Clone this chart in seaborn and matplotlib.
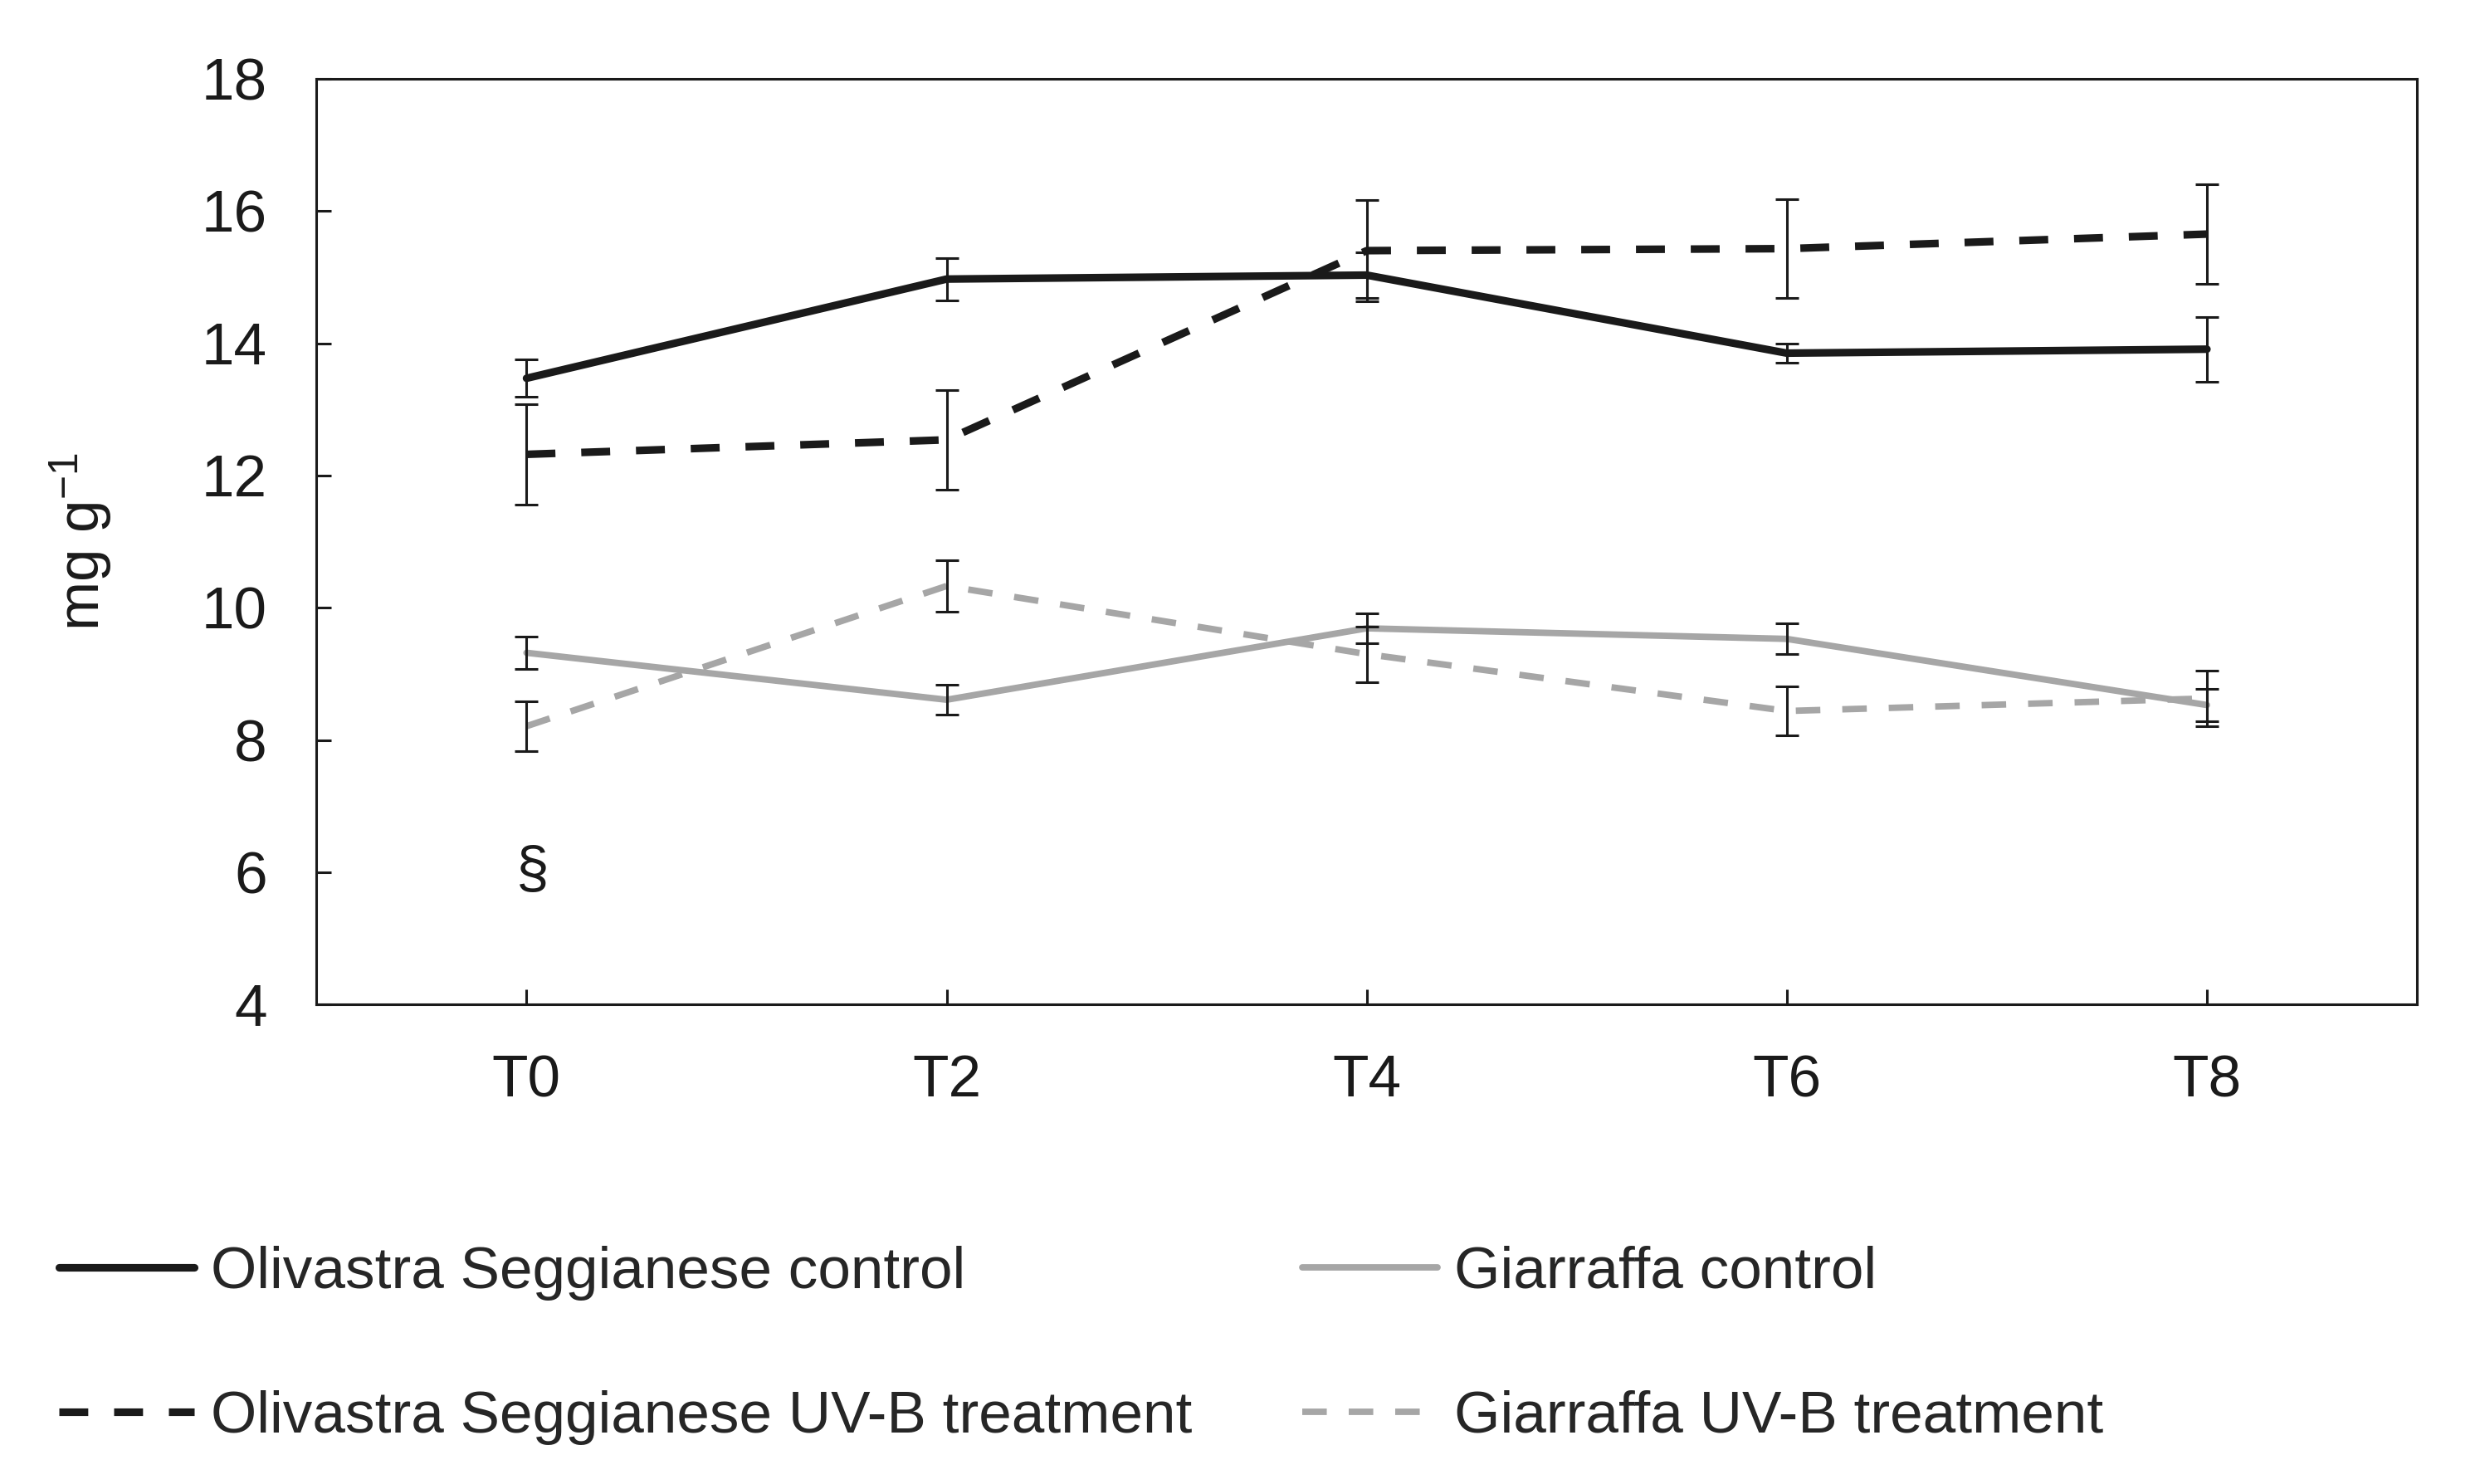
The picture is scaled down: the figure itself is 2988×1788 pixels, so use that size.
import numpy as np
import pandas as pd
import seaborn as sns
import matplotlib.pyplot as plt

times = ['T0', 'T2', 'T4', 'T6', 'T8']

os_ctrl = [13.47, 14.97, 15.03, 13.85, 13.91]
os_ctrl_err = [0.28, 0.32, 0.35, 0.14, 0.49]
os_uv = [12.32, 12.54, 15.40, 15.43, 15.65]
os_uv_err = [0.76, 0.75, 0.77, 0.75, 0.75]
g_ctrl = [9.32, 8.61, 9.69, 9.53, 8.53]
g_ctrl_err = [0.24, 0.23, 0.23, 0.23, 0.24]
g_uv = [8.21, 10.33, 9.30, 8.44, 8.63]
g_uv_err = [0.38, 0.39, 0.42, 0.37, 0.42]

labels = ['Olivastra Seggianese control', 'Olivastra Seggianese UV-B treatment',
          'Giarraffa control', 'Giarraffa UV-B treatment']

sns.set_style('ticks')
plt.rcParams['font.family'] = ['Liberation Sans', 'DejaVu Sans']
plt.rcParams['mathtext.fontset'] = 'custom'
plt.rcParams['mathtext.rm'] = 'Liberation Sans'
plt.rcParams['mathtext.it'] = 'Liberation Sans:italic'

black = '#1a1a1a'
grey = '#a6a6a6'
dash = (0, (3.8, 3.4))
fs = 25.6
series = [
    (os_ctrl, os_ctrl_err, black, '-', 3.3),
    (os_uv, os_uv_err, black, dash, 3.3),
    (g_ctrl, g_ctrl_err, grey, '-', 2.8),
    (g_uv, g_uv_err, grey, dash, 2.8),
]

fig = plt.figure(figsize=(14.94, 8.94), dpi=200)
ax = fig.add_axes([0.1276, 0.323, 0.847, 0.624])

x = np.arange(len(times))
for (vals, errs, col, ls, lw), lab in zip(series, labels):
    sns.lineplot(x=x, y=vals, ax=ax, color=col, linestyle=ls, linewidth=lw, label=lab)
for (vals, errs, col, ls, lw) in series:
    ax.errorbar(x, vals, yerr=errs, fmt='none', ecolor='#1a1a1a', elinewidth=1.1,
                capsize=5.2, capthick=1.1, zorder=5)

ax.text(0.015, 6.0, '§', ha='center', va='center', fontsize=fs, color='#1a1a1a')

ax.set_xlim(-0.5, 4.5)
ax.set_ylim(4, 18)
ax.set_yticks(range(4, 19, 2))
ax.set_xticks(x)
ax.set_xticklabels(times)
ax.tick_params(axis='both', direction='in', length=6.5, width=1.1, pad=21.5,
               labelsize=fs, colors='#1a1a1a')
ax.tick_params(top=False, right=False)
for s in ax.spines.values():
    s.set_linewidth(1.1)
    s.set_color('#1a1a1a')
ax.set_xlabel('')
ax.set_ylabel(r'mg g$^{-1}$', fontsize=fs, color='#1a1a1a')
ax.yaxis.set_label_coords(-0.096, 0.5)

handles, labs = ax.get_legend_handles_labels()
ax.get_legend().remove()
fig.legend(handles, labs, ncol=2, loc='center left', bbox_to_anchor=(0.0236, 0.0935),
           frameon=False, fontsize=fs, handlelength=2.3, handletextpad=0.28,
           columnspacing=1.86, labelspacing=1.52, borderpad=0, borderaxespad=0)

fig.savefig('out.png', dpi=200, facecolor='white')
